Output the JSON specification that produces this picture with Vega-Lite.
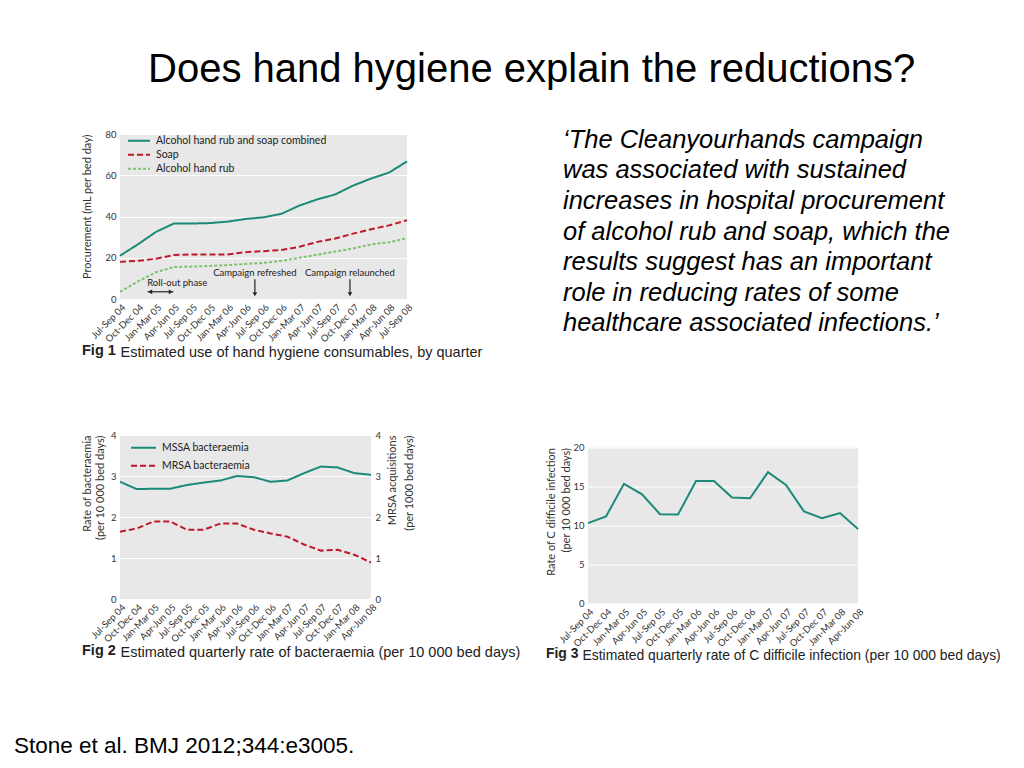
{
  "$schema": "https://vega.github.io/schema/vega-lite/v6.json",
  "padding": {"left": 14, "top": 49, "right": 0, "bottom": 0},
  "background": "white",
  "title": {"text": "Does hand hygiene explain the reductions?", "font": "Liberation Sans", "fontSize": 40, "fontWeight": "normal", "color": "#000000", "anchor": "start", "frame": "group", "dx": 28, "offset": 38},
  "config": {
    "view": {"stroke": null, "fill": "#e8e8e8"},
    "axis": {"domain": false, "ticks": false, "labelFont": "Lato", "labelFontSize": 9.5, "labelColor": "#333333", "titleFont": "Lato", "titleFontWeight": "normal", "titleFontSize": 11, "titleColor": "#333333", "gridColor": "#ffffff", "gridWidth": 1, "labelPadding": 4},
    "axisX": {"grid": false, "labelAngle": -45, "labelPadding": 3, "labelOverlap": false},
    "line": {"strokeCap": "butt"}
  },
  "spacing": 443,
  "bounds": "flush",
  "resolve": {"scale": {"color": "independent", "strokeDash": "independent", "shape": "independent"}},
  "hconcat": [
    {
      "bounds": "flush",
      "spacing": 136,
      "resolve": {"scale": {"color": "independent", "strokeDash": "independent", "shape": "independent"}},
      "title": {"text": "Stone et al. BMJ 2012;344:e3005.", "orient": "bottom", "anchor": "start", "frame": "group", "dx": -106, "offset": 94, "baseline": "alphabetic", "font": "Liberation Sans", "fontSize": 22.5, "fontWeight": "normal", "color": "#000000"},
      "vconcat": [
        {
          "width": 287,
          "height": 165,
          "title": {"text": "Fig 1", "orient": "bottom", "anchor": "start", "frame": "group", "dx": -38, "dy": -4, "offset": 0, "baseline": "alphabetic", "font": "Liberation Sans", "fontSize": 14.5, "fontWeight": "bold", "color": "#222222"},
          "encoding": {
            "x": {"field": "i", "type": "quantitative", "scale": {"domain": [0, 16], "nice": false, "zero": false},
              "axis": {"values": [0, 1, 2, 3, 4, 5, 6, 7, 8, 9, 10, 11, 12, 13, 14, 15, 16],
                "labelExpr": "['Jul-Sep 04','Oct-Dec 04','Jan-Mar 05','Apr-Jun 05','Jul-Sep 05','Oct-Dec 05','Jan-Mar 06','Apr-Jun 06','Jul-Sep 06','Oct-Dec 06','Jan-Mar 07','Apr-Jun 07','Jul-Sep 07','Oct-Dec 07','Jan-Mar 08','Apr-Jun 08','Jul-Sep 08'][datum.value]",
                "labelOverlap": false, "labelAngle": -45, "labelFlush": false,
                "title": "Estimated use of hand hygiene consumables, by quarter", "titleAnchor": "start", "titleAlign": "left", "titleX": 0, "titleY": 57, "titleBaseline": "alphabetic", "titleFont": "Liberation Sans", "titleFontSize": 14.5, "titleColor": "#222222"}},
            "y": {"field": "value", "type": "quantitative", "scale": {"domain": [0, 80]},
              "axis": {"values": [0, 20, 40, 60, 80], "title": "Procurement (mL per bed day)", "titleAnchor": "end", "titlePadding": 12}}
          },
          "layer": [
            {
              "data": {"values": [
                {"i": 0, "q": "Jul-Sep 04", "combined": 21, "soap": 18, "rub": 3.5},
                {"i": 1, "q": "Oct-Dec 04", "combined": 26.5, "soap": 18.5, "rub": 8.5},
                {"i": 2, "q": "Jan-Mar 05", "combined": 32.5, "soap": 19.5, "rub": 13},
                {"i": 3, "q": "Apr-Jun 05", "combined": 36.6, "soap": 21.3, "rub": 15.5},
                {"i": 4, "q": "Jul-Sep 05", "combined": 36.6, "soap": 21.6, "rub": 15.7},
                {"i": 5, "q": "Oct-Dec 05", "combined": 36.8, "soap": 21.6, "rub": 16},
                {"i": 6, "q": "Jan-Mar 06", "combined": 37.5, "soap": 21.6, "rub": 16.5},
                {"i": 7, "q": "Apr-Jun 06", "combined": 38.8, "soap": 22.7, "rub": 17},
                {"i": 8, "q": "Jul-Sep 06", "combined": 39.6, "soap": 23.2, "rub": 17.5},
                {"i": 9, "q": "Oct-Dec 06", "combined": 41.3, "soap": 23.8, "rub": 18.5},
                {"i": 10, "q": "Jan-Mar 07", "combined": 45.3, "soap": 25.3, "rub": 20},
                {"i": 11, "q": "Apr-Jun 07", "combined": 48.3, "soap": 27.7, "rub": 21.5},
                {"i": 12, "q": "Jul-Sep 07", "combined": 50.7, "soap": 29.3, "rub": 23},
                {"i": 13, "q": "Oct-Dec 07", "combined": 55, "soap": 31.7, "rub": 24.5},
                {"i": 14, "q": "Jan-Mar 08", "combined": 58.4, "soap": 33.8, "rub": 26.5},
                {"i": 15, "q": "Apr-Jun 08", "combined": 61.3, "soap": 35.7, "rub": 27.5},
                {"i": 16, "q": "Jul-Sep 08", "combined": 66.7, "soap": 38.2, "rub": 29.5}
              ]},
              "transform": [{"fold": ["combined", "soap", "rub"], "as": ["series", "value"]}],
              "mark": {"type": "line", "strokeWidth": 2},
              "encoding": {
                "color": {"field": "series", "type": "nominal", "scale": {"domain": ["combined", "soap", "rub"], "range": ["#1b8a78", "#c0182b", "#7cc26c"]},
                  "legend": {"orient": "none", "legendX": 7, "legendY": 0, "title": null, "symbolType": "stroke", "symbolSize": 484, "symbolStrokeWidth": 2, "labelFont": "Lato", "labelFontSize": 10.5, "labelColor": "#222222", "labelLimit": 400, "clipHeight": 13.3, "rowPadding": 0, "labelOffset": 5, "padding": 0,
                    "labelExpr": "datum.label == 'combined' ? 'Alcohol hand rub and soap combined' : datum.label == 'soap' ? 'Soap' : 'Alcohol hand rub'"}},
                "strokeDash": {"field": "series", "type": "nominal", "scale": {"domain": ["combined", "soap", "rub"], "range": [[1, 0], [6, 3], [3, 2]]},
                  "legend": {"orient": "none", "legendX": 7, "legendY": 0, "title": null, "symbolType": "stroke", "symbolSize": 484, "symbolStrokeWidth": 2, "labelFont": "Lato", "labelFontSize": 10.5, "labelColor": "#222222", "labelLimit": 400, "clipHeight": 13.3, "rowPadding": 0, "labelOffset": 5, "padding": 0,
                    "labelExpr": "datum.label == 'combined' ? 'Alcohol hand rub and soap combined' : datum.label == 'soap' ? 'Soap' : 'Alcohol hand rub'"}}
              }
            },
            {
              "data": {"values": [
                {"i": 7.52, "value": 12.6, "label": "Campaign refreshed"},
                {"i": 12.82, "value": 12.6, "label": "Campaign relaunched"},
                {"i": 3.19, "value": 7.6, "label": "Roll-out phase"}
              ]},
              "mark": {"type": "text", "font": "Lato", "fontSize": 9.5, "color": "#222222", "align": "center", "baseline": "middle"},
              "encoding": {"text": {"field": "label"}}
            },
            {
              "data": {"values": [
                {"i": 7.52, "value": 9.6, "value2": 3},
                {"i": 12.82, "value": 9.6, "value2": 3}
              ]},
              "mark": {"type": "rule", "color": "#222222", "strokeWidth": 1.2},
              "encoding": {"y2": {"field": "value2"}}
            },
            {
              "data": {"values": [
                {"i": 1.54, "i2": 2.97, "value": 3.5}
              ]},
              "mark": {"type": "rule", "color": "#222222", "strokeWidth": 1.2},
              "encoding": {"x2": {"field": "i2"}}
            },
            {
              "data": {"values": [
                {"i": 7.52, "value": 2.3, "shape": "triangle-down"},
                {"i": 12.82, "value": 2.3, "shape": "triangle-down"},
                {"i": 1.68, "value": 3.5, "shape": "triangle-left"},
                {"i": 2.83, "value": 3.5, "shape": "triangle-right"}
              ]},
              "mark": {"type": "point", "filled": true, "color": "#222222", "size": 22, "opacity": 1},
              "encoding": {"shape": {"field": "shape", "type": "nominal", "scale": null, "legend": null}}
            }
          ]
        },
        {
          "width": 251,
          "height": 164,
          "title": {"text": "Fig 2", "orient": "bottom", "anchor": "start", "frame": "group", "dx": -38, "dy": -4, "offset": 0, "baseline": "alphabetic", "font": "Liberation Sans", "fontSize": 14.5, "fontWeight": "bold", "color": "#222222"},
          "data": {"values": [
            {"q": "Jul-Sep 04", "mssa": 2.86, "mrsa": 1.64},
            {"q": "Oct-Dec 04", "mssa": 2.68, "mrsa": 1.72},
            {"q": "Jan-Mar 05", "mssa": 2.69, "mrsa": 1.89},
            {"q": "Apr-Jun 05", "mssa": 2.69, "mrsa": 1.89},
            {"q": "Jul-Sep 05", "mssa": 2.78, "mrsa": 1.69},
            {"q": "Oct-Dec 05", "mssa": 2.84, "mrsa": 1.69},
            {"q": "Jan-Mar 06", "mssa": 2.89, "mrsa": 1.84},
            {"q": "Apr-Jun 06", "mssa": 3.0, "mrsa": 1.84},
            {"q": "Jul-Sep 06", "mssa": 2.97, "mrsa": 1.69},
            {"q": "Oct-Dec 06", "mssa": 2.86, "mrsa": 1.6},
            {"q": "Jan-Mar 07", "mssa": 2.89, "mrsa": 1.52},
            {"q": "Apr-Jun 07", "mssa": 3.07, "mrsa": 1.33},
            {"q": "Jul-Sep 07", "mssa": 3.23, "mrsa": 1.18},
            {"q": "Oct-Dec 07", "mssa": 3.21, "mrsa": 1.2},
            {"q": "Jan-Mar 08", "mssa": 3.07, "mrsa": 1.08},
            {"q": "Apr-Jun 08", "mssa": 3.03, "mrsa": 0.89}
          ]},
          "transform": [{"fold": ["mssa", "mrsa"], "as": ["series", "v"]}],
          "encoding": {
            "x": {"field": "q", "type": "ordinal", "scale": {"type": "point", "padding": 0, "domain": ["Jul-Sep 04", "Oct-Dec 04", "Jan-Mar 05", "Apr-Jun 05", "Jul-Sep 05", "Oct-Dec 05", "Jan-Mar 06", "Apr-Jun 06", "Jul-Sep 06", "Oct-Dec 06", "Jan-Mar 07", "Apr-Jun 07", "Jul-Sep 07", "Oct-Dec 07", "Jan-Mar 08", "Apr-Jun 08"]},
              "axis": {"labelAngle": -45, "labelOverlap": false, "title": "Estimated quarterly rate of bacteraemia (per 10 000 bed days)", "titleAnchor": "start", "titleAlign": "left", "titleX": 0, "titleY": 57, "titleBaseline": "alphabetic", "titleFont": "Liberation Sans", "titleFontSize": 14.5, "titleColor": "#222222"}}
          },
          "layer": [
            {
              "transform": [{"filter": "datum.series == 'mssa'"}],
              "mark": {"type": "line", "strokeWidth": 2},
              "encoding": {
                "y": {"field": "v", "type": "quantitative", "scale": {"domain": [0, 4]}, "axis": {"values": [0, 1, 2, 3, 4], "title": ["Rate of bacteraemia", "(per 10 000 bed days)"], "titleAnchor": "end", "titlePadding": 5, "titleLineHeight": 13}},
                "color": {"field": "series", "type": "nominal", "scale": {"domain": ["mssa", "mrsa"], "range": ["#1b8a78", "#c0182b"]},
                  "legend": {"orient": "none", "legendX": 10, "legendY": 3.9, "title": null, "symbolType": "stroke", "symbolSize": 625, "symbolStrokeWidth": 2, "labelFont": "Lato", "labelFontSize": 10.5, "labelColor": "#222222", "labelLimit": 400, "clipHeight": 17.6, "rowPadding": 0, "labelOffset": 5, "padding": 0,
                    "labelExpr": "datum.label == 'mssa' ? 'MSSA bacteraemia' : 'MRSA bacteraemia'"}},
                "strokeDash": {"field": "series", "type": "nominal", "scale": {"domain": ["mssa", "mrsa"], "range": [[1, 0], [6, 3]]},
                  "legend": {"orient": "none", "legendX": 10, "legendY": 3.9, "title": null, "symbolType": "stroke", "symbolSize": 625, "symbolStrokeWidth": 2, "labelFont": "Lato", "labelFontSize": 10.5, "labelColor": "#222222", "labelLimit": 400, "clipHeight": 17.6, "rowPadding": 0, "labelOffset": 5, "padding": 0,
                    "labelExpr": "datum.label == 'mssa' ? 'MSSA bacteraemia' : 'MRSA bacteraemia'"}}
              }
            },
            {
              "transform": [{"filter": "datum.series == 'mrsa'"}],
              "mark": {"type": "line", "strokeWidth": 2},
              "encoding": {
                "y": {"field": "v", "type": "quantitative", "scale": {"domain": [0, 4]}, "axis": {"orient": "right", "grid": false, "values": [0, 1, 2, 3, 4], "title": ["MRSA acquisitions", "(per 1000 bed days)"], "titleAngle": 270, "titleAnchor": "end", "titleAlign": "right", "titlePadding": 0, "titleLineHeight": 17}},
                "color": {"field": "series", "type": "nominal", "scale": {"domain": ["mssa", "mrsa"], "range": ["#1b8a78", "#c0182b"]},
                  "legend": {"orient": "none", "legendX": 10, "legendY": 3.9, "title": null, "symbolType": "stroke", "symbolSize": 625, "symbolStrokeWidth": 2, "labelFont": "Lato", "labelFontSize": 10.5, "labelColor": "#222222", "labelLimit": 400, "clipHeight": 17.6, "rowPadding": 0, "labelOffset": 5, "padding": 0,
                    "labelExpr": "datum.label == 'mssa' ? 'MSSA bacteraemia' : 'MRSA bacteraemia'"}},
                "strokeDash": {"field": "series", "type": "nominal", "scale": {"domain": ["mssa", "mrsa"], "range": [[1, 0], [6, 3]]},
                  "legend": {"orient": "none", "legendX": 10, "legendY": 3.9, "title": null, "symbolType": "stroke", "symbolSize": 625, "symbolStrokeWidth": 2, "labelFont": "Lato", "labelFontSize": 10.5, "labelColor": "#222222", "labelLimit": 400, "clipHeight": 17.6, "rowPadding": 0, "labelOffset": 5, "padding": 0,
                    "labelExpr": "datum.label == 'mssa' ? 'MSSA bacteraemia' : 'MRSA bacteraemia'"}}
              }
            }
          ],
          "resolve": {"scale": {"y": "independent"}}
        }
      ]
    },
    {
      "bounds": "flush",
      "spacing": 102.5,
      "center": true,
      "vconcat": [
        {
          "width": 320,
          "height": 211,
          "view": {"fill": "transparent", "stroke": null},
          "data": {"values": [
            {"line": 1, "text": "‘The Cleanyourhands campaign"},
            {"line": 2, "text": "was associated with sustained"},
            {"line": 3, "text": "increases in hospital procurement"},
            {"line": 4, "text": "of alcohol rub and soap, which the"},
            {"line": 5, "text": "results suggest has an important"},
            {"line": 6, "text": "role in reducing rates of some"},
            {"line": 7, "text": "healthcare associated infections.’"}
          ]},
          "mark": {"type": "text", "align": "left", "baseline": "alphabetic", "font": "Liberation Sans", "fontSize": 25.5, "fontStyle": "italic", "color": "#000000"},
          "encoding": {
            "y": {"field": "line", "type": "ordinal", "axis": null, "scale": {"type": "point", "padding": 0.459}},
            "x": {"datum": 0, "type": "quantitative", "scale": {"domain": [0, 1]}, "axis": null},
            "text": {"field": "text"}
          }
        },
        {
          "width": 270,
          "height": 156,
          "title": {"text": "Fig 3", "orient": "bottom", "anchor": "start", "frame": "group", "dx": -42, "dy": -4, "offset": 0, "baseline": "alphabetic", "font": "Liberation Sans", "fontSize": 13.9, "fontWeight": "bold", "color": "#222222"},
          "data": {"values": [
            {"q": "Jul-Sep 04", "v": 10.3},
            {"q": "Oct-Dec 04", "v": 11.15},
            {"q": "Jan-Mar 05", "v": 15.35},
            {"q": "Apr-Jun 05", "v": 14.0},
            {"q": "Jul-Sep 05", "v": 11.45},
            {"q": "Oct-Dec 05", "v": 11.4},
            {"q": "Jan-Mar 06", "v": 15.7},
            {"q": "Apr-Jun 06", "v": 15.7},
            {"q": "Jul-Sep 06", "v": 13.6},
            {"q": "Oct-Dec 06", "v": 13.5},
            {"q": "Jan-Mar 07", "v": 16.85},
            {"q": "Apr-Jun 07", "v": 15.2},
            {"q": "Jul-Sep 07", "v": 11.8},
            {"q": "Oct-Dec 07", "v": 10.95},
            {"q": "Jan-Mar 08", "v": 11.6},
            {"q": "Apr-Jun 08", "v": 9.55}
          ]},
          "mark": {"type": "line", "strokeWidth": 2, "color": "#1b8a78"},
          "encoding": {
            "x": {"field": "q", "type": "ordinal", "sort": null, "scale": {"type": "point", "padding": 0},
              "axis": {"labelAngle": -45, "labelOverlap": false, "title": "Estimated quarterly rate of C difficile infection (per 10 000 bed days)", "titleAnchor": "start", "titleAlign": "left", "titleX": -6, "titleY": 55.5, "titleBaseline": "alphabetic", "titleFont": "Liberation Sans", "titleFontSize": 13.9, "titleColor": "#222222"}},
            "y": {"field": "v", "type": "quantitative", "scale": {"domain": [0, 20]}, "axis": {"values": [0, 5, 10, 15, 20], "title": ["Rate of C difficile infection", "(per 10 000 bed days)"], "titleAnchor": "end", "titlePadding": 1, "titleLineHeight": 15}}
          }
        }
      ]
    }
  ]
}
